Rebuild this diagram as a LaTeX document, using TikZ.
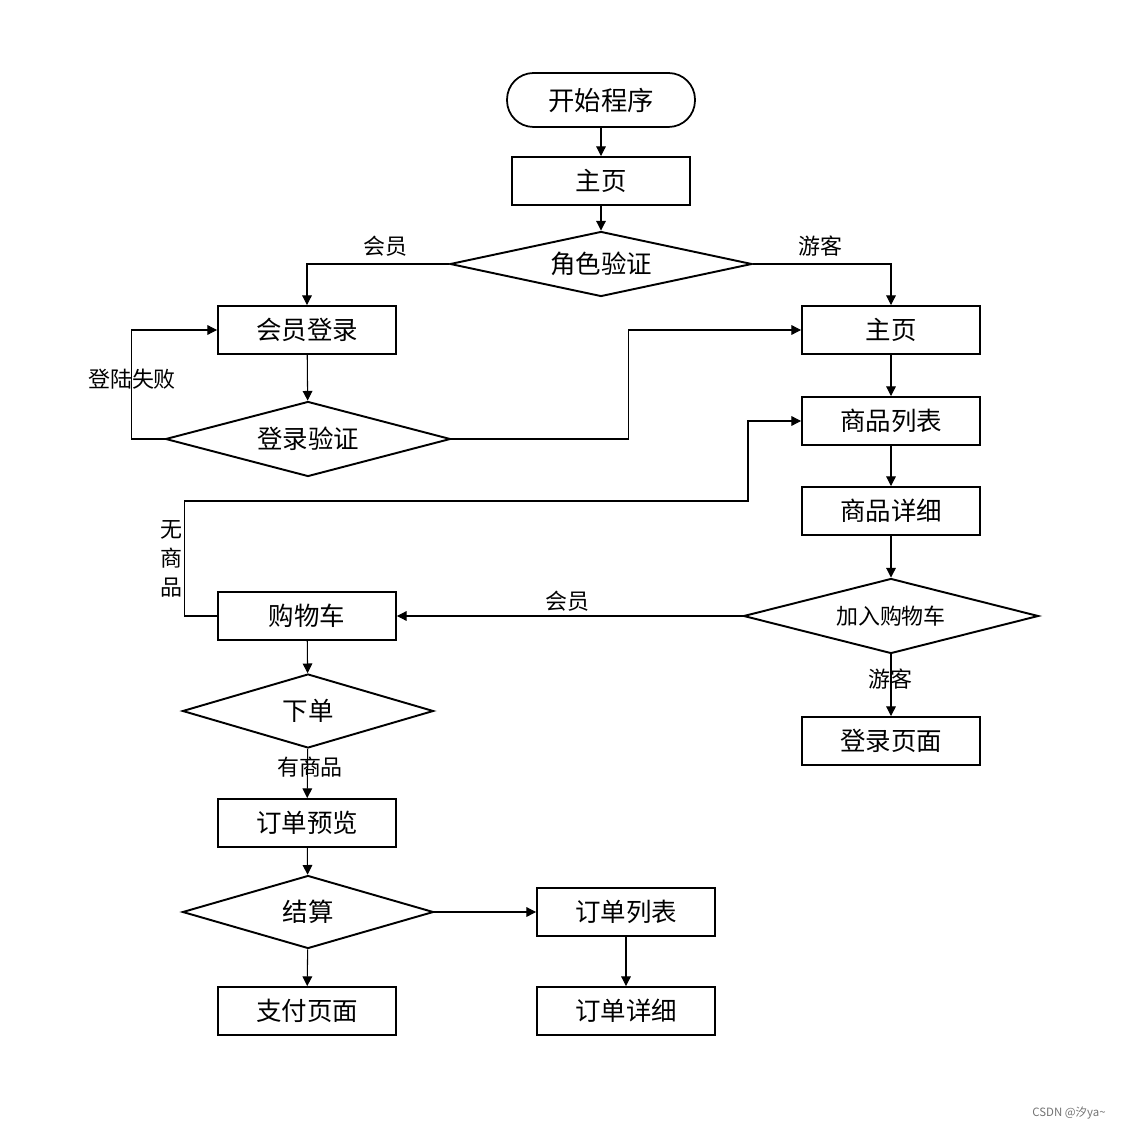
\documentclass[tikz,border=0pt]{standalone}
\usepackage{fontspec}
\setmainfont{Liberation Serif}
\newfontfamily\cjk{Noto Sans CJK SC}
\usetikzlibrary{calc,shapes,arrows.meta}

\begin{document}
\begin{tikzpicture}[x=0.02cm,y=-0.02cm,font=\cjk]
	\tikzstyle{startstop} = [rectangle, rounded corners=0.53cm, minimum width=3.76cm, minimum height=1.08cm, text centered, draw=black, line width=1pt, font=\cjk\fontsize{15}{18}\selectfont]
	\tikzstyle{process} = [rectangle, minimum width=3.56cm, minimum height=0.96cm, text centered, draw=black, line width=1.1pt, font=\cjk\fontsize{14.5}{17}\selectfont]
	\tikzstyle{decision} = [diamond, inner sep=0pt, text centered, draw=black, line width=1.1pt, font=\cjk\fontsize{14.5}{17}\selectfont]
	\tikzstyle{arrow} = [line width=0.6pt,-{Triangle[length=5.5pt,width=5.5pt]}]
	\tikzstyle{lbl} = [font=\cjk\fontsize{12.5}{16.5}\selectfont, inner sep=0pt]

	\useasboundingbox (0,0) rectangle (1127,1131);

	\node (start) [startstop] at (601,100) {开始程序};
	\node (home1) [process] at (601,181) {主页};
	\node (role) [decision, aspect=4.6, minimum width=6.04cm, minimum height=1.3cm] at (601,264) {角色验证};
	\node (memlogin) [process] at (307,330) {会员登录};
	\node (home2) [process] at (891,330) {主页};
	\node (loginv) [decision, aspect=3.8, minimum width=5.7cm, minimum height=1.5cm] at (308,439) {登录验证};
	\node (goodslist) [process] at (891,421) {商品列表};
	\node (goodsdetail) [process] at (891,511) {商品详细};
	\node (addcart) [decision, aspect=3.9, minimum width=5.9cm, minimum height=1.5cm, font=\cjk\fontsize{12.5}{15}\selectfont] at (891,616) {加入购物车};
	\node (cart) [process] at (307,616) {购物车};
	\node (loginpage) [process] at (891,741) {登录页面};
	\node (order) [decision, aspect=3.4, minimum width=5.02cm, minimum height=1.48cm] at (308,711) {下单};
	\node (preview) [process] at (307,823) {订单预览};
	\node (settle) [decision, aspect=3.4, minimum width=5.02cm, minimum height=1.46cm] at (308,912) {结算};
	\node (orderlist) [process] at (626,912) {订单列表};
	\node (pay) [process] at (307,1011) {支付页面};
	\node (orderdetail) [process] at (626,1011) {订单详细};
	\coordinate (detour) at (748,501);

	\draw [arrow] (start) -- (home1);
	\draw [arrow] (home1) -- (role);
	\draw [arrow] (role.west) -| (memlogin.north);
	\draw [arrow] (role.east) -| (home2.north);
	\draw [arrow] (memlogin) -- (loginv);
	\draw [arrow] (loginv.west) -- ++(-33,0) |- (memlogin.west);
	\draw [arrow] (loginv.east) -- ++(177,0) |- (home2.west);
	\draw [arrow] (home2) -- (goodslist);
	\draw [arrow] (goodslist) -- (goodsdetail);
	\draw [arrow] (goodsdetail) -- (addcart);
	\draw [arrow] (addcart.west) -- (cart.east);
	\draw [arrow] (addcart) -- (loginpage);
	\draw [arrow] (cart.west) -- ++(-33,0) |- (detour) |- (goodslist.west);
	\draw [arrow] (cart) -- (order);
	\draw [arrow] (order) -- (preview);
	\draw [arrow] (preview) -- (settle);
	\draw [arrow] (settle) -- (pay);
	\draw [arrow] (settle.east) -- (orderlist.west);
	\draw [arrow] (orderlist) -- (orderdetail);

	\node (lmember) [lbl] at (385,246) {会员};
	\node (lguest) [lbl] at (820,246) {游客};
	\node (lfail) [lbl] at (132,379) {登陆失败};
	\node (lmember2) [lbl] at (567,601) {会员};
	\node (lguest2) [lbl] at (890,679) {游客};
	\node (lnogoods) [lbl, align=center] at (171,559) {无\\商\\品};
	\node (lhasgoods) [lbl] at (310,767) {有商品};
	\node (mark) [font=\cjk\fontsize{6.5}{8}\selectfont, text=black!55, inner sep=0pt] at (1069,1113) {CSDN @汐ya\textasciitilde};
\end{tikzpicture}
\end{document}
